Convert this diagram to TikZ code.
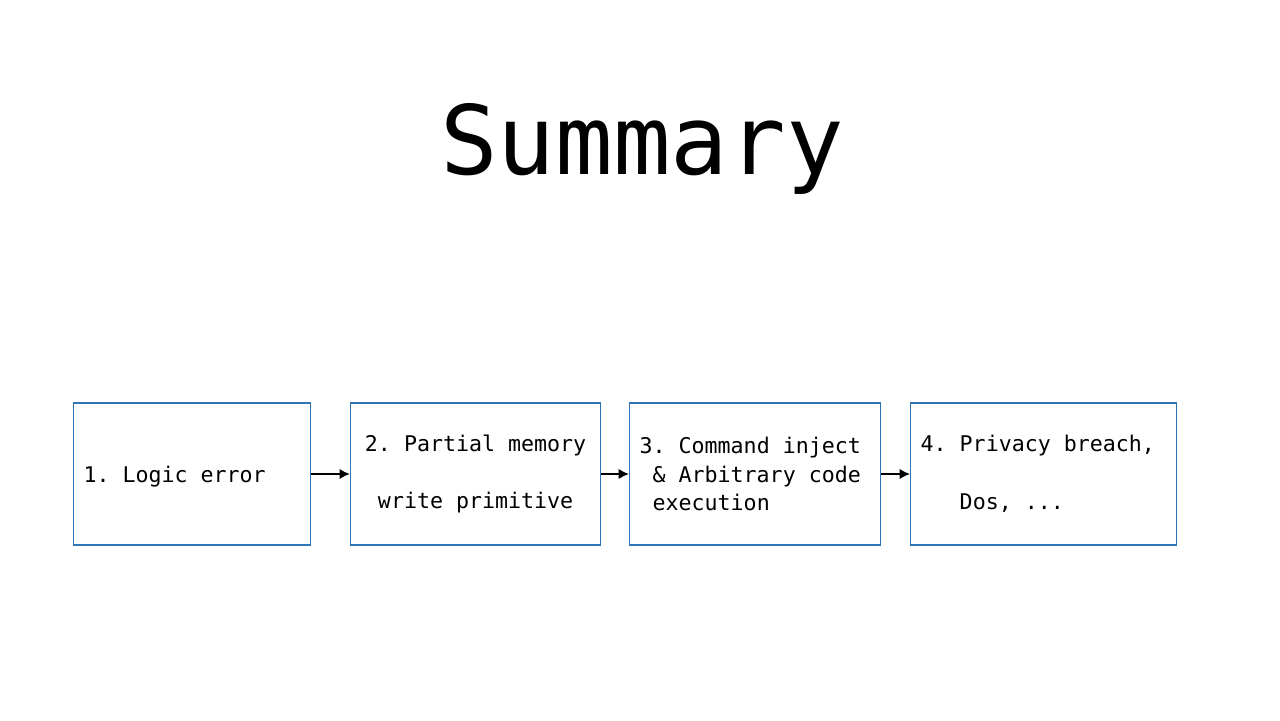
\documentclass[tikz,border=0pt]{standalone}
\usepackage{fontspec}
\setmonofont{DejaVu Sans Mono}
\usetikzlibrary{positioning}
\usetikzlibrary{arrows.meta}
\definecolor{boxblue}{RGB}{46,117,182}
\frenchspacing

\begin{document}
\begin{tikzpicture}[
    stage/.style={draw=boxblue, line width=0.6pt, minimum height=2.84cm,
        inner xsep=0.2cm, align=left,
        font=\ttfamily\fontsize{12.3}{16.4}\selectfont,
        execute at begin node={\spaceskip=0.602em\xspaceskip=0.602em\relax}},
    link/.style={line width=1.5pt, -{Latex[length=6pt,width=6pt]}}
]
    \useasboundingbox (0,0) rectangle (25.6,14.4);

    % Title
    \node[anchor=base, font=\ttfamily\fontsize{54.5}{60}\selectfont] (title) at (12.84,10.9) {Summary};

    % Nodes
    \node[stage, text width=4.34cm, text depth=0pt, anchor=west] (logic) at (1.46,4.92) {1. Logic error};
    \node[stage, text width=4.6cm, align=center, right=0.78cm of logic] (write) {2. Partial memory\\[16.4pt]write primitive};
    \node[stage, text width=4.62cm, right=0.56cm of write] (exec) {3. Command inject\\\phantom{3}\& Arbitrary code\\\phantom{3}execution};
    \node[stage, text width=4.92cm, right=0.58cm of exec] (breach) {4. Privacy breach,\\[16.4pt]\phantom{4.\ }Dos, ...};

    % Edges
    \draw[link] (logic) -- (write);
    \draw[link] (write) -- (exec);
    \draw[link] (exec) -- (breach);
\end{tikzpicture}
\end{document}
